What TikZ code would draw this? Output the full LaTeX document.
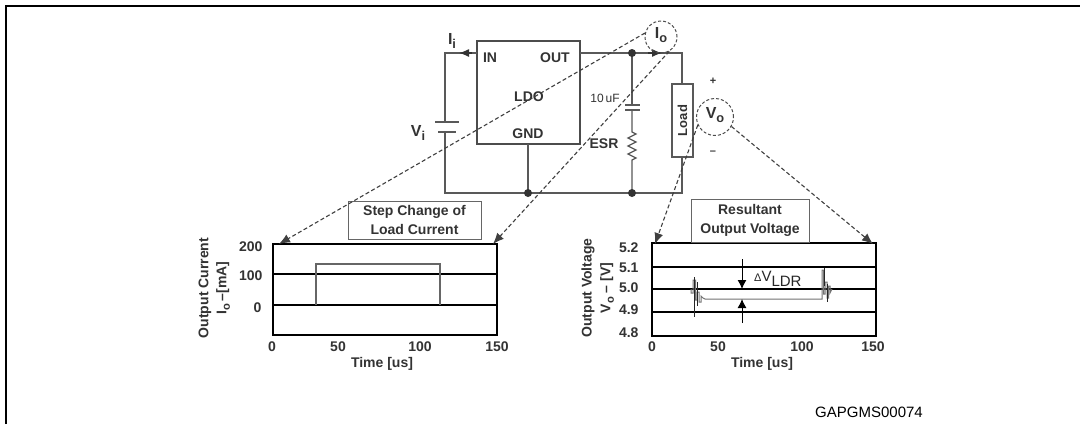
\documentclass[tikz,border=0pt]{standalone}
\usepackage{fontspec}
\setmainfont{Liberation Sans}
\usetikzlibrary{arrows.meta}
\newcommand\lowsub[1]{\raisebox{-3.5pt}{\scalebox{0.8}{#1}}}
\begin{document}
\begin{tikzpicture}[x=1pt,y=-1pt,
  wire/.style={black!65, line width=1.3pt},
  lbl/.style={text=black!80, font=\bfseries\fontsize{14}{19}\selectfont},
  biglbl/.style={text=black!80, font=\bfseries\fontsize{16}{16}\selectfont},
  small/.style={text=black!80, font=\fontsize{12}{12}\selectfont},
  dashlink/.style={black!75, line width=1.1pt, dash pattern=on 4pt off 2.5pt, -{Latex[length=11pt,width=9pt]}},
  wirearrow/.style={black!80, line width=1.3pt, -{Latex[length=10pt,width=8pt]}},
  gridln/.style={black, line width=1.2pt},
  plotbox/.style={draw=black, line width=2pt, inner sep=0},
  dotnode/.style={circle, fill=black!80, inner sep=0, minimum size=8pt},
  probe/.style={circle, draw=black!70, dash pattern=on 3pt off 2pt, line width=1pt, inner sep=0},
  titlebox/.style={draw=black!60, line width=1pt, align=center, inner sep=0, text=black!80, font=\bfseries\fontsize{14}{19}\selectfont},
  wave/.style={black!55, line width=1pt},
]
\useasboundingbox (0,0) rectangle (1080,424);
\fill[white] (0,0) rectangle (1080,424);
% frame
\draw[line width=2.2pt] (6,424) -- (6,6) -- (1080,6);

% ---------- circuit ----------
\node[draw=black!70, line width=1.8pt, minimum width=103pt, minimum height=103pt, inner sep=0] (ldo) at (528.5,92.5) {};
\node[lbl] (in) at (490,58) {IN};
\node[lbl] (out) at (555,58) {OUT};
\node[lbl] (ldotxt) at (529,97) {LDO};
\node[lbl] (gnd) at (528,134) {GND};

% input side
\draw[wire] (477,53) -- (445,53) -- (445,122);
\draw[wire, line width=1.6pt] (435,122) -- (459,122);
\draw[wire, line width=1.6pt] (438,132) -- (456,132);
\draw[wire] (445,132) -- (445,193) -- (682,193) -- (682,157);
\draw[wire] (528,144) -- (528,193);
\draw[wirearrow] (472,53) -- (459,53);
\node[biglbl] (ii) at (452,41) {I\lowsub{i}};
\node[biglbl] (vi) at (418,133) {V\lowsub{i}};

% output side
\draw[wire] (580,53) -- (682,53) -- (682,84);
\draw[wirearrow] (648,53) -- (662,53);
\draw[wire] (632,53) -- (632,105);
\draw[wire, line width=1.6pt] (625,105) -- (640,105);
\draw[wire, line width=1.6pt] (625,110) -- (640,110);
\draw[wire] (632,110) -- (632,132) -- (636,134) -- (628,138) -- (636,142) -- (628,146) -- (636,150) -- (628,154) -- (636,158) -- (632,160) -- (632,193);
\node[small] (cap) at (605,98) {10\,uF};
\node[lbl] (esr) at (604,144) {ESR};
\node[draw=black!65, line width=1.3pt, minimum width=21pt, minimum height=73pt, inner sep=0] (load) at (682.5,120.5) {};
\node[lbl, rotate=90, font=\bfseries\fontsize{13}{14}\selectfont] (loadtxt) at (682.5,120.5) {Load};
\node[dotnode] (d1) at (632,53) {};
\node[dotnode] (d2) at (528,193) {};
\node[dotnode] (d3) at (632,193) {};
\node[small, font=\bfseries\fontsize{11}{11}\selectfont] (plus) at (713,81) {+};
\node[small, font=\bfseries\fontsize{11}{11}\selectfont] (minus) at (713,153) {–};

% probes
\node[probe, minimum size=32pt] (io) at (661,37) {};
\node[biglbl] (iotxt) at (661,35) {I\lowsub{o}};
\node[probe, minimum size=37pt] (vo) at (715,117) {};
\node[biglbl] (votxt) at (715,115) {V\lowsub{o}};

% ---------- left plot ----------
\node[plotbox, minimum width=224pt, minimum height=91pt] (g1) at (385,289.5) {};
\draw[gridln] (273,274) -- (497,274);
\draw[gridln] (273,305) -- (497,305);
\draw[black!60, line width=1.2pt] (316,305) -- (316,264) -- (440,264) -- (440,305);
\node[titlebox, minimum width=133pt, minimum height=38pt] (t1) at (414.5,220) {Step Change of\\Load Current};
\node[lbl, anchor=east] (y200) at (266,247) {200};
\node[lbl, anchor=east] (y100) at (266,276) {100};
\node[lbl, anchor=east] (y0) at (265,308) {0};
\node[lbl] (x0a) at (272,347) {0};
\node[lbl] (x50a) at (338,347) {50};
\node[lbl] (x100a) at (420,347) {100};
\node[lbl] (x150a) at (497,347) {150};
\node[lbl] (tima) at (382,364) {Time [us]};
\node[lbl, rotate=90] (ya1) at (205,288) {Output Current};
\node[lbl, rotate=90] (ya2) at (223,288) {I\lowsub{o}\,–[mA]};
\coordinate (g1tl) at (279,244);
\coordinate (g1tr) at (493,244);

% ---------- right plot ----------
\node[plotbox, minimum width=224pt, minimum height=93pt] (g2) at (764,289.5) {};
\draw[gridln] (652,267) -- (876,267);
\draw[gridln] (652,289) -- (876,289);
\draw[gridln] (652,312) -- (876,312);
\draw[wave] (691,289) -- (691,293) -- (693,293) -- (693,280) -- (695.5,280) -- (695.5,300) -- (697,300) -- (697,292) -- (699,292) -- (699,302) -- (701,302) -- (701,296) -- (703,298) -- (705,299) -- (822,299) -- (822,270) -- (823.5,270) -- (823.5,294) -- (825,294) -- (825,282) -- (827,282) -- (827,298) -- (828.5,298) -- (828.5,286) -- (830,286) -- (830,293) -- (832,289);
\draw[black!85, line width=0.9pt] (694.5,277) -- (694.5,317);
\draw[black!85, line width=0.9pt] (697.5,282) -- (697.5,306);
\draw[black!85, line width=0.9pt] (824,268) -- (824,286);
\draw[black!85, line width=0.9pt] (827.5,284) -- (827.5,302);
\node[titlebox, minimum width=118pt, minimum height=43pt] (t2) at (750,220.5) {Resultant\\Output Voltage};
\node[lbl, anchor=east] (v52) at (642,248) {5.2};
\node[lbl, anchor=east] (v51) at (642,268) {5.1};
\node[lbl, anchor=east] (v50) at (642,288) {5.0};
\node[lbl, anchor=east] (v49) at (642,310) {4.9};
\node[lbl, anchor=east] (v48) at (642,333) {4.8};
\node[lbl] (x0b) at (652,347) {0};
\node[lbl] (x50b) at (718,347) {50};
\node[lbl] (x100b) at (802,347) {100};
\node[lbl] (x150b) at (873,347) {150};
\node[lbl] (timb) at (762,364) {Time [us]};
\node[lbl, rotate=90] (yb1) at (588,288) {Output Voltage};
\node[lbl, rotate=90] (yb2) at (607,288) {V\lowsub{o} – [V]};
\coordinate (g2tl) at (655,244);
\coordinate (g2tr) at (873,244);
% delta V arrows
\coordinate (dvt) at (742,259);
\coordinate (dvb) at (742,323);
\coordinate (dvtop) at (742,289);
\coordinate (dvbot) at (742,299);
\draw[black, line width=1pt, -{Latex[length=9pt,width=9pt]}] (dvt) -- (dvtop);
\draw[black, line width=1pt, -{Latex[length=9pt,width=9pt]}] (dvb) -- (dvbot);
\node[anchor=base west, inner sep=0, text=black!85, font=\fontsize{15}{15}\selectfont] (dvl) at (754,281) {{\fontsize{11}{11}\selectfont Δ}V\raisebox{-5pt}{LDR}};

% ---------- dashed links ----------
\draw[dashlink] (io.166) -- (g1tl);
\draw[dashlink] (io.300) -- (g1tr);
\draw[dashlink] (vo.205) -- (g2tl);
\draw[dashlink] (vo.330) -- (g2tr);

\node[font=\fontsize{15}{15}\selectfont] (code) at (869,412) {GAPGMS00074};
\end{tikzpicture}
\end{document}
